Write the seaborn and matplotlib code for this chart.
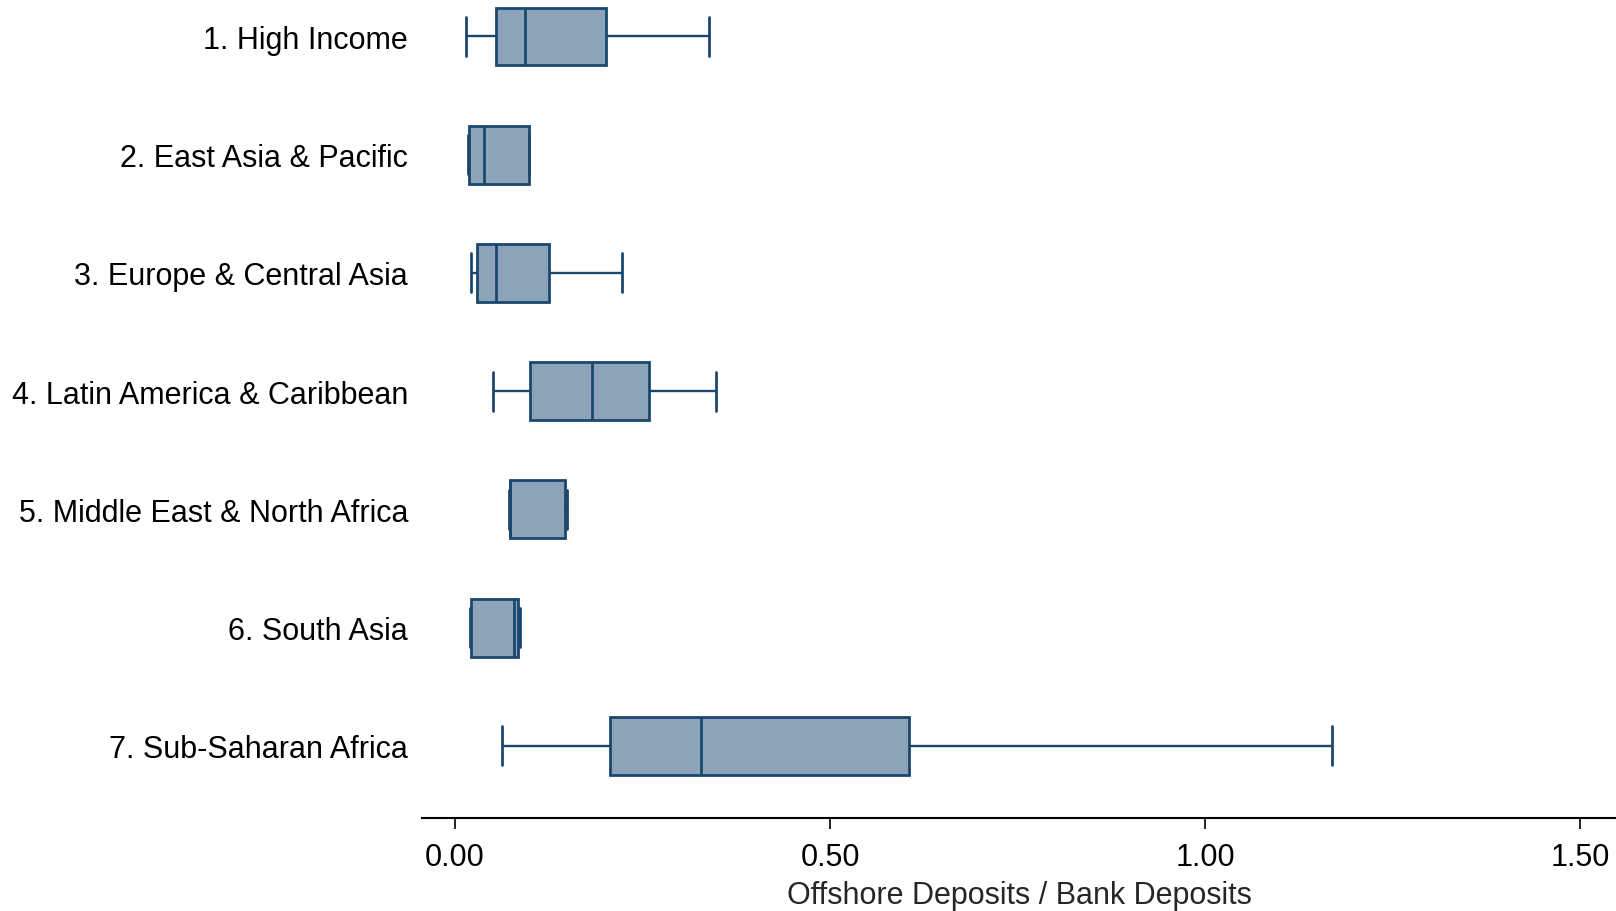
import matplotlib
matplotlib.use("Agg")
import matplotlib.pyplot as plt
import seaborn as sns
import pandas as pd

# Regional distribution of offshore-to-bank deposit ratios (five-number summaries)
regions = [
    "1. High Income",
    "2. East Asia & Pacific",
    "3. Europe & Central Asia",
    "4. Latin America & Caribbean",
    "5. Middle East & North Africa",
    "6. South Asia",
    "7. Sub-Saharan Africa",
]
lower_adj = [0.015, 0.017, 0.021, 0.051, 0.072, 0.020, 0.063]
q25 = [0.055, 0.019, 0.029, 0.100, 0.073, 0.021, 0.207]
q50 = [0.093, 0.039, 0.055, 0.182, 0.0735, 0.079, 0.328]
q75 = [0.201, 0.098, 0.125, 0.259, 0.147, 0.084, 0.605]
upper_adj = [0.338, 0.098, 0.222, 0.348, 0.149, 0.086, 1.170]

# Long table: one row per summary value, so the quartiles of each group
# are exactly q25/q50/q75 and whiskers span the full range.
rows = []
for i, name in enumerate(regions):
    for v in (lower_adj[i], q25[i], q50[i], q75[i], upper_adj[i]):
        rows.append({"region": name, "ratio": v})
df = pd.DataFrame(rows)

sns.set_theme(style="white")
plt.rcParams["font.family"] = ["Liberation Sans", "DejaVu Sans"]

fill = "#8CA3B8"
edge = "#1B476F"
fs = 22

fig = plt.figure(figsize=(16.16, 9.12), dpi=100)
ax = fig.add_axes([422 / 1616, 1 - 819 / 912, 1 - 422 / 1616, 819 / 912])

sns.boxplot(
    data=df, x="ratio", y="region", order=regions, orient="h",
    whis=(0, 100), width=0.49, color=fill, saturation=1,
    linecolor=edge, linewidth=2.0, fliersize=0,
    capwidths=0.33,
    whiskerprops={"linewidth": 1.7},
    capprops={"linewidth": 2.0},
    ax=ax,
)

ax.set_xlim(-0.044, 1.548)
ax.set_ylim(6.61, -0.317)
ax.set_xticks([0.0, 0.5, 1.0, 1.5])
ax.set_xticklabels(["0.00", "0.50", "1.00", "1.50"])
ax.set_xlabel("Offshore Deposits / Bank Deposits", fontsize=fs, labelpad=6)
ax.set_ylabel("")

for side in ("top", "right", "left"):
    ax.spines[side].set_visible(False)
ax.spines["bottom"].set_color("black")
ax.spines["bottom"].set_linewidth(1.5)

ax.tick_params(axis="x", bottom=True, length=8, width=1.2, color="black",
               labelsize=fs, labelcolor="black", pad=9)
ax.tick_params(axis="y", left=False, length=0, labelsize=fs,
               labelcolor="black", pad=10)
ax.grid(False)

fig.savefig("out.png", dpi=100, facecolor="white")
